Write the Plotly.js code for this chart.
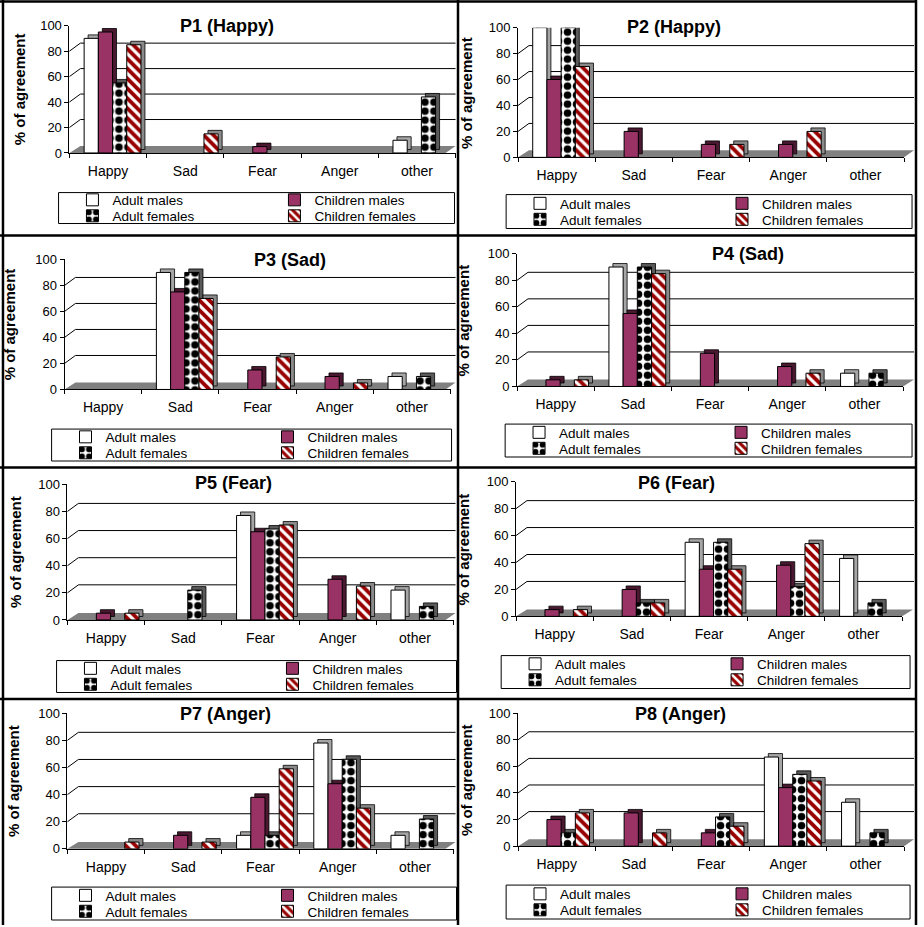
<!DOCTYPE html>
<html><head><meta charset="utf-8">
<script src="https://cdn.plot.ly/plotly-3.0.1.min.js"></script>
<style>html,body{margin:0;padding:0;background:#fff}#chart{width:924px;height:927px}</style>
</head><body><div id="chart"></div>
<script>
// ---------- DATA ----------
const categories = ['Happy', 'Sad', 'Fear', 'Anger', 'other'];
const seriesNames = ['Adult males', 'Children males', 'Adult females', 'Children females'];
const panelTitles = ['P1 (Happy)', 'P2 (Happy)', 'P3 (Sad)', 'P4 (Sad)', 'P5 (Fear)', 'P6 (Fear)', 'P7 (Anger)', 'P8 (Anger)'];
const yTickVals = [0, 20, 40, 60, 80, 100];
const yTitle = '% of agreement';

// values in order: Happy, Sad, Fear, Anger, other
const p1AdultMales      = [90, 0, 0, 0, 10];
const p1ChildrenMales   = [95, 0, 5, 0, 0];
const p1AdultFemales    = [55, 0, 0, 0, 44];
const p1ChildrenFemales = [85, 15, 0, 0, 0];

const p2AdultMales      = [100, 0, 0, 0, 0];
const p2ChildrenMales   = [60, 20, 10, 10, 0];
const p2AdultFemales    = [100, 0, 0, 0, 0];
const p2ChildrenFemales = [70, 0, 10, 20, 0];

const p3AdultMales      = [0, 90, 0, 0, 10];
const p3ChildrenMales   = [0, 75, 15, 10, 0];
const p3AdultFemales    = [0, 90, 0, 0, 10];
const p3ChildrenFemales = [0, 70, 25, 5, 0];

const p4AdultMales      = [0, 90, 0, 0, 10];
const p4ChildrenMales   = [5, 55, 25, 15, 0];
const p4AdultFemales    = [0, 90, 0, 0, 10];
const p4ChildrenFemales = [5, 85, 0, 10, 0];

const p5AdultMales      = [0, 0, 77, 0, 22];
const p5ChildrenMales   = [5, 0, 65, 30, 0];
const p5AdultFemales    = [0, 22, 67, 0, 10];
const p5ChildrenFemales = [5, 0, 70, 25, 0];

const p6AdultMales      = [0, 0, 55, 0, 43];
const p6ChildrenMales   = [5, 20, 35, 38, 0];
const p6AdultFemales    = [0, 10, 55, 22, 10];
const p6ChildrenFemales = [5, 10, 35, 54, 0];

const p7AdultMales      = [0, 0, 10, 78, 10];
const p7ChildrenMales   = [0, 10, 38, 48, 0];
const p7AdultFemales    = [0, 0, 10, 66, 22];
const p7ChildrenFemales = [5, 5, 59, 30, 0];

const p8AdultMales      = [0, 0, 0, 67, 33];
const p8ChildrenMales   = [20, 25, 10, 44, 0];
const p8AdultFemales    = [10, 0, 22, 54, 10];
const p8ChildrenFemales = [25, 10, 15, 49, 0];

const panelSeries = [
  [p1AdultMales, p1ChildrenMales, p1AdultFemales, p1ChildrenFemales],
  [p2AdultMales, p2ChildrenMales, p2AdultFemales, p2ChildrenFemales],
  [p3AdultMales, p3ChildrenMales, p3AdultFemales, p3ChildrenFemales],
  [p4AdultMales, p4ChildrenMales, p4AdultFemales, p4ChildrenFemales],
  [p5AdultMales, p5ChildrenMales, p5AdultFemales, p5ChildrenFemales],
  [p6AdultMales, p6ChildrenMales, p6AdultFemales, p6ChildrenFemales],
  [p7AdultMales, p7ChildrenMales, p7AdultFemales, p7ChildrenFemales],
  [p8AdultMales, p8ChildrenMales, p8AdultFemales, p8ChildrenFemales]
];

// ---------- LAYOUT GEOMETRY (pixels) ----------
const W = 924, H = 927;
const FONT = 'Liberation Sans, Arial, sans-serif';
const px = x => x / W;
const py = y => 1 - y / H;
const origins = [[0,0],[462,0],[0,235],[462,235],[0,467],[462,467],[0,699],[462,699]];
const axisX  = [70, 60, 65, 59, 68, 58, 68, 60];
const y0s    = [153.3, 157.7, 155.3, 152.3, 154.3, 150.7, 151.7, 149];
const y100s  = [25.7, 27.7, 25, 19.3, 18.3, 15.7, 15.7, 15.7];
const catW = 77.8;
const rightLimit = 459;
const legBox = [[59,193,458,224],[48,195,457,229],[52,195,455,227],[47,190,457,223],[57,195,460,227],[43,190,455,223],[52,190,460,223],[48,188,455,222]];
const titlePos = [[229,26],[217,27],[292,26],[292,20],[235,17],[220,17],[227,17],[224,17]];
const yTitleX = [19, 8, 10, 5, 15, 5, 13, 8];
const wallDX = 11, wallDY = 8;
const barDXpx = 4, barDYpx = 3.5;
const barW = 0.184, groupStart = -0.31;

const styles = [
  {color: '#ffffff', shadow: '#a6a6a6'},
  {color: '#993366', shadow: '#4a1830'},
  {color: '#ffffff', shadow: '#5a5a5a', pattern: {shape: '.', fgcolor: '#000000', bgcolor: '#ffffff', size: 9, solidity: 0.55}},
  {color: '#990000', shadow: '#8a8a8a', pattern: {shape: '\\', fgcolor: '#ffffff', bgcolor: '#990000', size: 7, solidity: 0.45}}
];

const traces = [];
const shapes = [];
const annotations = [];
const layout = {
  width: W, height: H,
  margin: {l: 0, r: 0, t: 0, b: 0},
  paper_bgcolor: '#ffffff',
  plot_bgcolor: 'rgba(0,0,0,0)',
  barmode: 'overlay',
  font: {family: FONT, color: '#000000'},
  showlegend: true
};

panelSeries.forEach((series, p) => {
  const k = p + 1;
  const [ox, oy] = origins[p];
  const ax = axisX[p], y0 = y0s[p], y100 = y100s[p];
  const xRight = Math.min(ax + 5 * catW, rightLimit);
  const pxPerUnitX = (xRight - ax) / 5;
  const pxPerUnitY = (y0 - y100) / 100;
  const dxU = barDXpx / pxPerUnitX, dyU = barDYpx / pxPerUnitY;
  const xa = 'x' + (k === 1 ? '' : k), ya = 'y' + (k === 1 ? '' : k);

  layout['xaxis' + (k === 1 ? '' : k)] = {
    domain: [px(ox + ax), px(ox + xRight)], anchor: ya, type: 'category',
    range: [-0.5, 4.5], showline: true, linecolor: '#000', linewidth: 1,
    ticks: 'outside', tickson: 'boundaries', ticklen: 4, tickcolor: '#000',
    showgrid: false, zeroline: false, fixedrange: true,
    tickfont: {size: 14, family: FONT, color: '#000'}, ticklabelstandoff: 5
  };
  layout['yaxis' + (k === 1 ? '' : k)] = {
    domain: [py(oy + y0), py(oy + y100)], anchor: xa, range: [0, 100],
    tickvals: yTickVals, showline: true, linecolor: '#000', linewidth: 1,
    ticks: 'outside', ticklen: 4, tickcolor: '#000', showgrid: false, zeroline: false,
    fixedrange: true, tickfont: {size: 13, family: FONT, color: '#000'}
  };

  // back wall gridlines and connectors
  yTickVals.forEach(v => {
    if (v === 0 || v === 100) return;
    const yv = oy + y0 - v * pxPerUnitY;
    shapes.push({type: 'line', xref: 'paper', yref: 'paper', layer: 'below',
      x0: px(ox + ax), y0: py(yv), x1: px(ox + ax + wallDX), y1: py(yv - wallDY),
      line: {color: '#000', width: 1}});
    shapes.push({type: 'line', xref: 'paper', yref: 'paper', layer: 'below',
      x0: px(ox + ax + wallDX), y0: py(yv - wallDY), x1: px(ox + rightLimit), y1: py(yv - wallDY),
      line: {color: '#000', width: 1}});
  });
  // floor
  const fr = Math.min(ax + 5 * catW, rightLimit - 10);
  const br = Math.min(ax + 5 * catW + wallDX, rightLimit);
  shapes.push({type: 'path', xref: 'paper', yref: 'paper', layer: 'below',
    path: `M ${px(ox+ax)} ${py(oy+y0)} L ${px(ox+fr)} ${py(oy+y0)} L ${px(ox+br)} ${py(oy+y0-7)} L ${px(ox+ax+wallDX)} ${py(oy+y0-7)} Z`,
    fillcolor: '#808080', line: {width: 0}});

  series.forEach((vals, s) => {
    const st = styles[s];
    const yv = vals.map(v => v > 0 ? v : null);
    traces.push({type: 'bar', x: categories, y: yv, base: dyU, offset: groupStart + s * barW + dxU, width: barW,
      xaxis: xa, yaxis: ya, cliponaxis: false, showlegend: false, hoverinfo: 'skip',
      marker: {color: st.shadow, line: {color: '#000', width: 0.8}}});
  });
  series.forEach((vals, s) => {
    const st = styles[s];
    const yv = vals.map(v => v > 0 ? v : null);
    const li = 2 * p + (s < 2 ? 1 : 2);
    const marker = {color: st.color, line: {color: '#000', width: 1}};
    if (st.pattern) marker.pattern = st.pattern;
    traces.push({type: 'bar', name: seriesNames[s], x: categories, y: yv, offset: groupStart + s * barW, width: barW,
      xaxis: xa, yaxis: ya, cliponaxis: false, legend: li === 1 ? 'legend' : 'legend' + li,
      marker: marker});
  });

  // legends (one per legend row)
  const [lL, lT, lR, lB] = legBox[p];
  const rowGap = 16;
  const firstRow = (lT + lB) / 2 - rowGap / 2;
  [0, 1].forEach(r => {
    const li = 2 * p + r + 1;
    layout[li === 1 ? 'legend' : 'legend' + li] = {
      x: px(ox + lL + 14), y: py(oy + firstRow + r * rowGap), xanchor: 'left', yanchor: 'middle',
      orientation: 'h', bgcolor: 'rgba(0,0,0,0)', borderwidth: 0,
      font: {size: 13.5, family: FONT, color: '#000'}, entrywidth: 157, entrywidthmode: 'pixels',
      itemclick: false, itemdoubleclick: false, traceorder: 'normal'
    };
  });
  shapes.push({type: 'rect', xref: 'paper', yref: 'paper', layer: 'above',
    x0: px(ox + lL), x1: px(ox + lR), y0: py(oy + lT), y1: py(oy + lB),
    line: {color: '#000', width: 1}, fillcolor: 'rgba(0,0,0,0)'});

  annotations.push({xref: 'paper', yref: 'paper', x: px(ox + titlePos[p][0]), y: py(oy + titlePos[p][1]),
    xanchor: 'center', yanchor: 'middle', showarrow: false, text: panelTitles[p],
    font: {size: 18, family: FONT, weight: 'bold', color: '#000'}});
  annotations.push({xref: 'paper', yref: 'paper', x: px(ox + yTitleX[p]), y: py(oy + (y0 + y100) / 2),
    xanchor: 'center', yanchor: 'middle', showarrow: false, text: yTitle, textangle: -90,
    font: {size: 15, family: FONT, weight: 'bold', color: '#000'}});
});

// panel borders
const hLines = [1.5, 236, 468.5, 700.5];
hLines.forEach(y => shapes.push({type: 'line', xref: 'paper', yref: 'paper', layer: 'above',
  x0: 0, x1: 1, y0: py(y), y1: py(y), line: {color: '#000', width: 2.5}}));
[3, 461.5, 923].forEach(x => shapes.push({type: 'line', xref: 'paper', yref: 'paper', layer: 'above',
  x0: px(x), x1: px(x), y0: 0, y1: 1, line: {color: '#000', width: 2.5}}));

layout.shapes = shapes;
layout.annotations = annotations;

Plotly.newPlot('chart', traces, layout, {displayModeBar: false, staticPlot: true});
</script>
</body></html>
